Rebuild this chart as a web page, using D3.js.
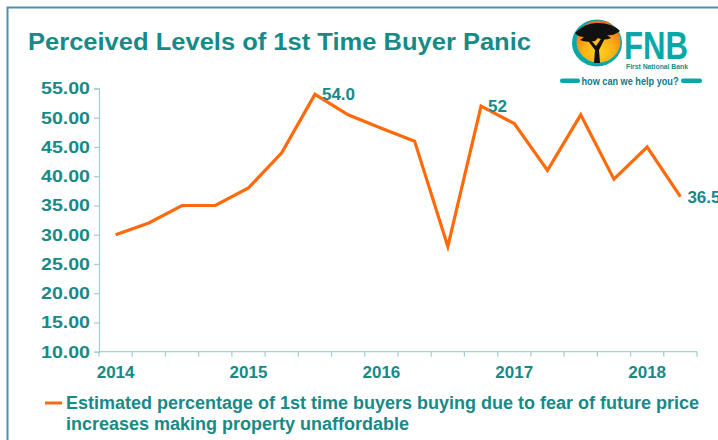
<!DOCTYPE html>
<html>
<head>
<meta charset="utf-8">
<script src="https://cdn.jsdelivr.net/npm/d3@7"></script>
<style>
  body { margin: 0; background: #fff; }
  svg { display: block; font-family: "Liberation Sans", Arial, sans-serif; }
</style>
</head>
<body>
<div id="chart"></div>
<script>
// quarters from 2014 Q1 to 2018 Q2
const quarters = ["2014Q1", "2014Q2", "2014Q3", "2014Q4", "2015Q1", "2015Q2", "2015Q3", "2015Q4",
  "2016Q1", "2016Q2", "2016Q3", "2016Q4", "2017Q1", "2017Q2", "2017Q3", "2017Q4", "2018Q1", "2018Q2"];
const panicPct = [30, 32, 35, 35, 38, 44, 54, 50.5, 48.2, 46, 28, 52, 49, 41, 50.5, 39.5, 45, 36.5];
const yearTicks = ["2014", "2015", "2016", "2017", "2018"];
const yTicks = [10, 15, 20, 25, 30, 35, 40, 45, 50, 55];
const labelQuarters = ["2015Q3", "2016Q4", "2018Q2"];
const labelTexts = ["54.0", "52", "36.5"];
const legendLines = ["Estimated percentage of 1st time buyers buying due to fear of future price",
  "increases making property unaffordable"];

const W = 718, H = 440;
const teal = "#178a87";
const axisCol = "#a3d3d3";
const orange = "#ff6a0a";

const svg = d3.select("#chart").append("svg")
  .attr("width", W).attr("height", H);

// frame
svg.append("path")
  .attr("d", "M7.5,440 V7.5 H718")
  .attr("fill", "none")
  .attr("stroke", "#4b93a5")
  .attr("stroke-width", 2);

// title
svg.append("text")
  .attr("x", 28).attr("y", 50)
  .attr("fill", teal)
  .attr("textLength", 503).attr("lengthAdjust", "spacingAndGlyphs")
  .style("font-size", "23px").style("font-weight", "bold")
  .text("Perceived Levels of 1st Time Buyer Panic");

const x = d3.scaleBand().domain(quarters).range([99, 697]);
const y = d3.scaleLinear().domain([10, 55]).range([351.7, 88.5]);
const cx = q => x(q) + x.bandwidth() / 2;

// y axis
const yAxis = svg.append("g")
  .attr("transform", "translate(99,0)")
  .call(d3.axisLeft(y).tickValues(yTicks).tickFormat(d3.format(".2f")).tickSize(5).tickPadding(4));
yAxis.select(".domain").attr("stroke", axisCol).attr("stroke-width", 1.3);
yAxis.selectAll(".tick line").attr("stroke", axisCol).attr("stroke-width", 1.3);
yAxis.selectAll(".tick text")
  .attr("fill", teal)
  .attr("textLength", 49).attr("lengthAdjust", "spacingAndGlyphs")
  .style("font-size", "17px").style("font-weight", "bold")
  .style("font-family", "'Liberation Sans', Arial, sans-serif");

// x axis (labels at Q1 of each year, ticks on quarter boundaries)
const xAxis = svg.append("g")
  .attr("transform", "translate(0," + y(10) + ")")
  .call(d3.axisBottom(x)
    .tickValues(yearTicks.map(yr => yr + "Q1"))
    .tickFormat(q => q.slice(0, 4))
    .tickSize(0).tickPadding(14));
xAxis.select(".domain").remove();
xAxis.selectAll(".tick text")
  .attr("fill", teal)
  .style("font-size", "17px").style("font-weight", "bold")
  .style("font-family", "'Liberation Sans', Arial, sans-serif");

const bounds = quarters.map(q => x(q)).concat([x.range()[1]]);
svg.append("line")
  .attr("x1", x.range()[0]).attr("x2", x.range()[1])
  .attr("y1", y(10)).attr("y2", y(10))
  .attr("stroke", axisCol).attr("stroke-width", 1.3);
svg.selectAll(".xtick")
  .data(bounds)
  .enter()
  .append("line")
  .attr("class", "xtick")
  .attr("x1", d => d).attr("x2", d => d)
  .attr("y1", y(10)).attr("y2", y(10) + 5)
  .attr("stroke", axisCol).attr("stroke-width", 1.3);

// line
const line = d3.line()
  .x((d, i) => cx(quarters[i]))
  .y(d => y(d));

svg.append("path")
  .datum(panicPct)
  .attr("d", line)
  .attr("fill", "none")
  .attr("stroke", orange)
  .attr("stroke-width", 3.2)
  .attr("stroke-linejoin", "miter");

// data labels
svg.selectAll(".dlabel")
  .data(labelQuarters)
  .enter()
  .append("text")
  .attr("class", "dlabel")
  .attr("x", q => cx(q) + 7)
  .attr("y", q => y(panicPct[quarters.indexOf(q)]) + 6)
  .attr("fill", teal)
  .style("font-size", "17px").style("font-weight", "bold")
  .text((q, i) => labelTexts[i]);

// legend
svg.append("line")
  .attr("x1", 45).attr("x2", 62)
  .attr("y1", 403).attr("y2", 403)
  .attr("stroke", orange).attr("stroke-width", 3);
svg.selectAll(".leg")
  .data(legendLines)
  .enter()
  .append("text")
  .attr("class", "leg")
  .attr("x", 66)
  .attr("y", (d, i) => 409 + i * 21)
  .attr("fill", teal)
  .style("font-size", "18px").style("font-weight", "bold")
  .text(d => d);

// FNB logo
const logo = svg.append("g");
const defs = svg.append("defs");
const grad = defs.append("radialGradient").attr("id", "sun")
  .attr("cx", "50%").attr("cy", "75%").attr("r", "70%");
grad.append("stop").attr("offset", "0%").attr("stop-color", "#ffd21f");
grad.append("stop").attr("offset", "50%").attr("stop-color", "#fbb016");
grad.append("stop").attr("offset", "100%").attr("stop-color", "#f26f21");

logo.append("ellipse")
  .attr("cx", 597).attr("cy", 43).attr("rx", 25).attr("ry", 23.5)
  .attr("fill", "#0aa7a8");
logo.append("ellipse")
  .attr("cx", 598.5).attr("cy", 41.5).attr("rx", 22).attr("ry", 21)
  .attr("fill", "url(#sun)");
// tree canopy
logo.append("path")
  .attr("d", "M575,33 Q586,22 598,23 Q612,23 620,31 L617,33 Q612,36 607,35 L611,38 Q604,41 598,38 " +
    "L595,41 Q586,43 580,40 L584,37 Q578,37 575,33 Z")
  .attr("fill", "#111");
// trunk and branches
logo.append("path")
  .attr("d", "M594,63 L595,50 L586,38 L589,38 L596,46 L603,36 L606,36 L599,50 L600,63 Z")
  .attr("fill", "#111");

logo.append("text")
  .attr("x", 624).attr("y", 58.5)
  .attr("fill", "#0aa7a8")
  .attr("textLength", 64).attr("lengthAdjust", "spacingAndGlyphs")
  .style("font-size", "38px").style("font-weight", "bold")
  .text("FNB");
logo.append("text")
  .attr("x", 626).attr("y", 69)
  .attr("fill", "#0b8f93")
  .attr("textLength", 62).attr("lengthAdjust", "spacingAndGlyphs")
  .style("font-size", "7px").style("font-weight", "bold")
  .text("First National Bank");
logo.append("rect")
  .attr("x", 560).attr("y", 78.5).attr("width", 20).attr("height", 4.5).attr("rx", 2)
  .attr("fill", "#0aa7a8");
logo.append("rect")
  .attr("x", 681).attr("y", 78.5).attr("width", 21).attr("height", 4.5).attr("rx", 2)
  .attr("fill", "#0aa7a8");
logo.append("text")
  .attr("x", 581.5).attr("y", 84.5)
  .attr("fill", "#0a7d86")
  .attr("textLength", 97).attr("lengthAdjust", "spacingAndGlyphs")
  .style("font-size", "11.5px").style("font-weight", "bold")
  .text("how can we help you?");
</script>
</body>
</html>
